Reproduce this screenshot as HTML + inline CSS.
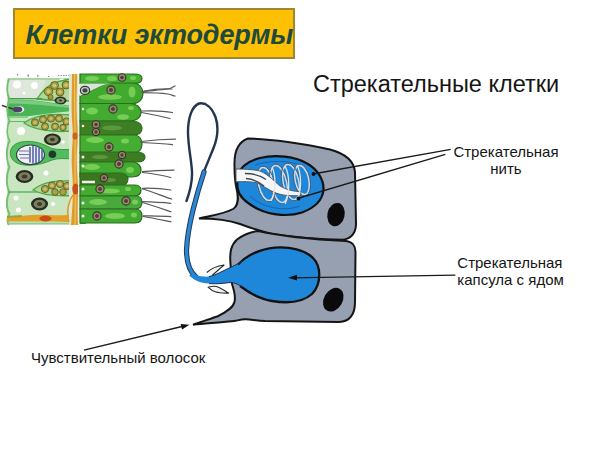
<!DOCTYPE html>
<html><head><meta charset="utf-8">
<style>
html,body{margin:0;padding:0;background:#fff;}
body{width:600px;height:450px;position:relative;overflow:hidden;font-family:"Liberation Sans",sans-serif;}
.t{position:absolute;white-space:nowrap;color:#151515;line-height:1;}
#box{position:absolute;left:13px;top:8px;width:278px;height:47px;background:#FEC002;border:2px solid #a08634;}
#title{position:absolute;left:25.5px;top:22px;font-weight:bold;font-style:italic;font-size:27px;color:#1d4a3c;white-space:nowrap;line-height:1;letter-spacing:-0.1px;}
svg{position:absolute;left:0;top:0;}
</style></head>
<body>
<div id="box"></div>
<div id="title">Клетки эктодермы</div>
<div class="t" style="left:313px;top:73px;font-size:23.5px;">Стрекательные клетки</div>
<div class="t" style="left:453px;top:143px;font-size:15px;width:106px;text-align:center;line-height:17.3px;">Стрекательная<br>нить</div>
<div class="t" style="left:457.3px;top:253.9px;font-size:15px;line-height:17.6px;">Стрекательная<br>капсула с ядом</div>
<div class="t" style="left:31px;top:350px;font-size:15px;">Чувствительный волосок</div>
<svg width="600" height="450" viewBox="0 0 600 450">
<!-- ===== epithelium picture ===== -->
<g id="epi">
<!-- left light background -->
<rect x="7" y="78" width="66" height="147" fill="#c9e6c0"/>
<path d="M8,79 L46,79 C44,88 40,95 36,98.5 L8,98.5 Z" fill="#dde7da"/>
<path d="M8,79 L72,79" stroke="#9ccf94" stroke-width="1.5"/>
<g fill="#8a8a80"><rect x="17" y="74" width="1.2" height="1.5"/><rect x="27.5" y="74.5" width="1.5" height="2"/><rect x="37" y="75" width="1.5" height="1.5"/><rect x="48" y="76" width="1.2" height="1"/><path d="M58,75.5 L70,75.5" stroke="#9a9a88" stroke-width="1" stroke-dasharray="1.5 1"/></g>
<!-- top white holes -->
<circle cx="17" cy="84.5" r="4" fill="#fff"/>
<circle cx="34.5" cy="85.5" r="3.4" fill="#fff"/>
<circle cx="24" cy="93" r="1.5" fill="#fff"/>
<circle cx="62" cy="81.5" r="3" fill="#fff"/>
<!-- top granule cell -->
<path d="M37,99 C43,90 50,81 72,79 L72,101 C60,101 48,100 37,99 Z" fill="#b3d89e" stroke="#4fa848" stroke-width="1.3"/>
<g fill="#a8a040" stroke="#5e5e1c" stroke-width="0.9">
<circle cx="48.5" cy="91.5" r="4.3"/><circle cx="54.5" cy="85.5" r="4"/><circle cx="60" cy="92" r="4"/><circle cx="66" cy="85" r="4"/><circle cx="50.5" cy="97" r="2.5"/>
</g>
<g fill="#cfc878"><circle cx="48.5" cy="91.5" r="2"/><circle cx="54.5" cy="85.5" r="1.8"/><circle cx="60" cy="92" r="1.8"/><circle cx="66" cy="85" r="1.8"/></g>
<ellipse cx="60.5" cy="100.5" rx="6" ry="4" fill="#2a3424"/>
<ellipse cx="60.5" cy="100.5" rx="4" ry="2.5" fill="#8c9870"/>
<ellipse cx="60.5" cy="100.5" rx="1.6" ry="1.1" fill="#3a3a22"/>
<!-- green elongated sensory cell -->
<path d="M8,99.5 L30,100 C45,101.5 60,104 72,106 L72,111 C60,112 45,114 30,116 L8,116 Z" fill="#4ab456"/>
<path d="M8,100 L30,100.5 C45,102 60,104.5 72,106.5 L72,108 C55,106.5 40,104 8,103.5 Z" fill="#7ccc80"/>
<path d="M8,98.7 L42,98.7" stroke="#3e9c48" stroke-width="1.2"/>
<path d="M8,117 L28,117" stroke="#5cbf5e" stroke-width="1.2"/>
<ellipse cx="18.5" cy="109.5" rx="5.8" ry="3.6" fill="#f0f0f0"/>
<ellipse cx="17.5" cy="109.5" rx="4.8" ry="3" fill="#4c4466"/>
<path d="M2,105.5 C6,106.5 9,108 13,109" stroke="#3a3a3a" stroke-width="1.6" fill="none"/>
<!-- middle granule cell -->
<path d="M24,123 C35,114.5 55,113.5 72,115 L72,131 C55,132.5 35,130.5 24,123 Z" fill="#a6d294" stroke="#4fa848" stroke-width="1.3"/>
<g fill="#a8a040" stroke="#5e5e1c" stroke-width="0.9">
<circle cx="35" cy="122.5" r="3.6"/><circle cx="43" cy="119.5" r="3.6"/><circle cx="51" cy="118.5" r="3.6"/><circle cx="59" cy="118.5" r="3.6"/><circle cx="66.5" cy="121.5" r="3.6"/><circle cx="45" cy="126.5" r="3.5"/><circle cx="55" cy="126.5" r="3.5"/><circle cx="63" cy="127.5" r="3.2"/>
</g>
<g fill="#c8c070"><circle cx="35" cy="122.5" r="1.6"/><circle cx="43" cy="119.5" r="1.6"/><circle cx="51" cy="118.5" r="1.6"/><circle cx="59" cy="118.5" r="1.6"/><circle cx="66.5" cy="121.5" r="1.6"/><circle cx="45" cy="126.5" r="1.5"/><circle cx="55" cy="126.5" r="1.5"/><circle cx="63" cy="127.5" r="1.4"/></g>
<path d="M8,121.5 L26,121.5" stroke="#5cbf5e" stroke-width="1"/>
<circle cx="21" cy="131" r="4" fill="#fff"/>
<!-- nucleus ring -->
<ellipse cx="52.4" cy="139.5" rx="8.5" ry="6.1" fill="#262c20"/>
<ellipse cx="52.4" cy="139.5" rx="6" ry="4" fill="#7a8060"/>
<ellipse cx="52.4" cy="139.5" rx="2.6" ry="1.8" fill="#3e3e24"/>
<circle cx="63" cy="142" r="1.8" fill="#fff"/>
<!-- nematocyst cell -->
<path d="M10.3,153 C10.3,145 18,141.4 28,141.4 C38,141.4 45,145 52,148.5 C58,150 65,149.5 72.6,149.3 L72.6,159 C65,158.5 58,158 52,160 C45,163 38,165.2 28,165.2 C18,165.2 10.3,161 10.3,153 Z" fill="#52bc5e" stroke="#3a9a44" stroke-width="1"/>
<ellipse cx="30.5" cy="154.8" rx="14" ry="9.8" fill="#eef0f6" stroke="#2e4a40" stroke-width="1.2"/>
<g stroke="#4a5aa8" stroke-width="1.5">
<path d="M30,147 L30,162.5 M33,146 L33,163.5 M36,146.5 L36,163 M39,147.5 L39,162 M42,150 L42,159.5"/>
</g>
<path d="M19,151 L29,151 M19,154.5 L29,154.5 M20,158 L29,158" stroke="#7a72a0" stroke-width="1"/>
<circle cx="52.4" cy="154.2" r="3.8" fill="#1e3a2a"/>
<!-- left edge cells outline -->
<path d="M9,79 C6.5,85 6.5,94 9.5,99 C6.5,105 6.5,115 9.5,121 C6.5,127 6.5,135 9.5,141 C6,148 6,160 9.5,167 C6,174 6,186 9.5,192 C6,198 6,208 9.5,214 C7,218 7,222 9,225" stroke="#70c06c" stroke-width="1.8" fill="none"/>
<!-- lower left area -->
<ellipse cx="24.5" cy="176.5" rx="8.8" ry="6.5" fill="#262c20"/>
<ellipse cx="24.5" cy="176.5" rx="6.2" ry="4.3" fill="#7c8062"/>
<ellipse cx="24.5" cy="176.5" rx="2.8" ry="2" fill="#3e3e24"/>
<circle cx="46" cy="173" r="2.5" fill="#fff"/>
<path d="M33,190 C42,182 55,180 72,181 L72,195.5 C55,196.5 42,195 33,190 Z" fill="#b0d69a" stroke="#4fa848" stroke-width="1.3"/>
<g fill="#a8a24a" stroke="#5e5e1c" stroke-width="0.9">
<circle cx="45" cy="189" r="3.6"/><circle cx="52" cy="185.5" r="3.6"/><circle cx="60" cy="184" r="3.6"/><circle cx="67" cy="186" r="3.6"/><circle cx="55" cy="192" r="3.3"/><circle cx="63" cy="192" r="3.3"/>
</g>
<g fill="#cdc47a"><circle cx="45" cy="189" r="1.6"/><circle cx="52" cy="185.5" r="1.6"/><circle cx="60" cy="184" r="1.6"/><circle cx="67" cy="186" r="1.6"/></g>
<path d="M8,192 L37,192" stroke="#4fae58" stroke-width="1.3"/>
<ellipse cx="39.5" cy="204" rx="8.5" ry="6.5" fill="#262c20"/>
<ellipse cx="39.5" cy="204" rx="6" ry="4.3" fill="#7c8062"/>
<ellipse cx="39.5" cy="204" rx="2.6" ry="1.9" fill="#3e3e24"/>
<circle cx="16" cy="198" r="2.5" fill="#fff"/><circle cx="18.5" cy="210" r="2.5" fill="#fff"/><circle cx="53" cy="204" r="2" fill="#fff"/>
<!-- bottom orange bar -->
<path d="M7,218.5 C20,215.5 35,214 47,215 C55,215 65,216 73,214 L73,222.5 C60,221.5 40,221.5 7,221.5 Z" fill="#e2a028"/>
<path d="M7,217 L22,216" stroke="#90a438" stroke-width="2"/>
<ellipse cx="45.5" cy="218.5" rx="6" ry="3" fill="#cc4a14"/>
<path d="M8,223.5 L72,223.5" stroke="#8cd08c" stroke-width="1.5"/>
<!-- orange vertical band -->
<rect x="69" y="74" width="12" height="151" fill="#dfe9d2"/>
<path d="M72,74 L77,74 C77,90 76,105 77,120 C78,130 78,140 77,150 C76,165 78,178 78,189 C78,200 77,212 78,225 L71,225 C72,212 73,200 73,189 C73,178 71,165 72,150 C73,140 73,130 72,120 C71,105 72,90 72,74 Z" fill="#e09a28"/>
<path d="M74.5,74 C74.5,95 74.5,110 75,125 C75.5,150 74.5,170 75.5,190 C75.5,205 75,215 75,225" stroke="#f0c060" stroke-width="1.2" fill="none"/>
<ellipse cx="75.5" cy="189" rx="3.2" ry="5.5" fill="#c8501a"/>
<ellipse cx="75" cy="136" rx="2.5" ry="3.5" fill="#d06020"/>
<path d="M69,222 C66,210 69,200 73,195 M78,195 C80,205 80,215 81,222" stroke="#e09a28" stroke-width="1.5" fill="none"/>
<rect x="78" y="74" width="2.5" height="151" fill="#eef0e4"/>
<!-- right green cells -->
<rect x="80" y="74" width="6" height="150" fill="#3f9a30"/>
<g stroke="#2c6e1e" stroke-width="1.2">
<path d="M80,74 L134,74 C139,74 142,76 142,78.5 C142,81.5 139,83.5 134,83.5 L80,83.5 Z" fill="#46b032"/>
<path d="M80,103.5 L80,96 C95,90 100,83 112,83 L133,83 C139,83 143,88 143,93.5 C143,99 139,103.5 133,103.5 Z" fill="#40a92e"/>
<path d="M80,83.5 L112,83.5 C100,84 95,90 80,96 Z" fill="#d8e4d8" stroke="none"/>
<path d="M80,103.5 L130,103.5 C137,103.5 141,108 141,112 C141,117 137,121 130,121 L80,121 Z" fill="#42ab30"/>
<path d="M80,121 L133,121 C139,121 142,125 142,128 C142,132 139,135 133,135 L80,135 Z" fill="#3d7f22"/>
<path d="M80,135 L134,135 C139,135 142,139 142,144 C142,149 139,153 134,153 L80,153 Z" fill="#44ae32"/>
<path d="M80,152 L137,152 C142,152 145,154.5 145,157 C145,160 142,162 137,162 L80,162 Z" fill="#3e7c23"/>
<path d="M80,162 L132,162 C138,162 141,166 141,170 C141,174 138,177 132,177 L80,177 Z" fill="#42ab30"/>
<path d="M80,173 L120,173 C125,173 128,176 128,179 C128,183 125,186 120,186 L80,186 Z" fill="#3b7621"/>
<path d="M80,185 L134,185 C139,185 141,187 141,190 C141,194 139,196 134,196 L80,196 Z" fill="#44ac31"/>
<path d="M80,196 L135,196 C140,196 142,199 142,202 C142,206 140,209 135,209 L80,209 Z" fill="#47aa3a"/>
<path d="M80,209 L135,209 C140,209 142,212 142,216 C142,220 140,223 135,223 L80,223 Z" fill="#42aa30"/>
</g>
<!-- light spots -->
<g fill="#88da64" opacity="0.75">
<ellipse cx="92" cy="78.5" rx="7" ry="2.6"/><ellipse cx="112" cy="78.5" rx="5" ry="2.5"/><ellipse cx="133" cy="78" rx="3" ry="2"/>
<ellipse cx="132" cy="92" rx="3.5" ry="5.5"/><ellipse cx="110" cy="97" rx="12" ry="2.8"/>
<ellipse cx="92" cy="111" rx="6" ry="3.5"/><ellipse cx="123" cy="117" rx="6" ry="2.8"/><ellipse cx="131" cy="108" rx="3" ry="2"/>
<ellipse cx="95" cy="140" rx="9" ry="3"/><ellipse cx="125" cy="141" rx="4" ry="2.5"/>
<ellipse cx="92" cy="167" rx="8" ry="3"/><ellipse cx="130" cy="170" rx="4" ry="3"/>
<ellipse cx="110" cy="191" rx="10" ry="2.5"/><ellipse cx="128" cy="189" rx="3" ry="2"/>
<ellipse cx="98" cy="202" rx="9" ry="3"/><ellipse cx="135" cy="202" rx="3" ry="2.5"/>
<ellipse cx="115" cy="216" rx="10" ry="3"/><ellipse cx="134" cy="215" rx="3" ry="2.5"/>
</g>
<g fill="#7fb060" opacity="0.5">
<ellipse cx="112" cy="128" rx="10" ry="2.5"/><ellipse cx="100" cy="157" rx="8" ry="2"/><ellipse cx="110" cy="180" rx="6" ry="2"/>
</g>
<!-- nuclei -->
<g fill="#948c76" stroke="#3a3626" stroke-width="1.15">
<circle cx="122" cy="77.5" r="3.8"/><circle cx="111" cy="90" r="4.1"/><circle cx="113" cy="109" r="4.1"/>
<circle cx="96" cy="124.5" r="3.8"/><circle cx="96" cy="132" r="3.6"/><circle cx="109" cy="147" r="4.1"/>
<circle cx="122" cy="155" r="3.6"/><circle cx="119" cy="164" r="4.1"/><circle cx="104" cy="178" r="3.6"/>
<circle cx="100" cy="189" r="4.1"/><circle cx="126" cy="201" r="4.1"/><circle cx="97" cy="216" r="4.1"/>
</g>
<g fill="#5a3a30">
<circle cx="122" cy="77.5" r="1.8"/><circle cx="111" cy="90" r="2"/><circle cx="113" cy="109" r="2"/>
<circle cx="96" cy="124.5" r="1.8"/><circle cx="96" cy="132" r="1.7"/><circle cx="109" cy="147" r="2"/>
<circle cx="122" cy="155" r="1.7"/><circle cx="119" cy="164" r="2"/><circle cx="104" cy="178" r="1.7"/>
<circle cx="100" cy="189" r="2"/><circle cx="126" cy="201" r="2"/><circle cx="97" cy="216" r="2"/>
</g>
<ellipse cx="85" cy="90.4" rx="4.6" ry="4" fill="#c8ccc4" stroke="#2e3a30" stroke-width="1.2"/>
<ellipse cx="85" cy="90.4" rx="2.6" ry="2.2" fill="#3a4440"/>
<g fill="#f4f4ee">
<circle cx="83" cy="157" r="1.5"/><circle cx="83" cy="166" r="1.5"/><circle cx="83" cy="189" r="1.5"/><circle cx="83" cy="203" r="1.5"/><circle cx="83" cy="216" r="1.5"/><circle cx="83" cy="109" r="1.3"/><circle cx="83" cy="126" r="1.3"/>
</g>
<path d="M82,182 L95,182" stroke="#eef0ea" stroke-width="2.5"/>
<!-- hairs -->
<g stroke="#585858" stroke-width="1.25" fill="none" stroke-linecap="round">
<path d="M142,91.5 C152,90.5 162,90 168,89 C171,88.5 173,87 175,86"/><path d="M142,92.5 C152,92.5 162,93 168,94 C171,94.5 173,95.5 175,96"/><path d="M144,91 C155,89 165,88.5 172,89"/>
<path d="M141.5,111 C152,110.5 162,110.5 172.5,112.5"/><path d="M141.5,112.5 C150,114 160,116 170,118.5"/>
<path d="M141,141.5 C152,140 163,139 175.5,139"/><path d="M141,142.5 C152,143 162,143.5 172.5,144.6"/>
<path d="M142.5,171.7 C152,170.5 163,170 174,170"/><path d="M142.5,172.5 C152,173.5 162,175 170.8,177.5"/>
<path d="M142.5,188.3 C152,188 162,188.5 170.8,190"/><path d="M142.5,189 C150,191 160,195 171.7,199"/>
<path d="M142.5,201.7 C152,202 162,202.5 170.8,203.3"/><path d="M142.5,202.5 C150,204.5 160,208 170.8,211.7"/>
<path d="M143.3,215.8 C152,216 162,216 170.8,216.7"/><path d="M143.3,216.5 C152,218 162,220 170.8,221.7"/>
</g>
</g>
<!-- ===== diagram ===== -->
<g id="diag">
<!-- thread -->
<path d="M186.5,201 C189,194 192.5,184 192,172 C191.5,160 188,146 188,132 C188,118 192,106 199,103.5 C206,102 212,108 215.5,117 C218.5,126 217.5,138 213.5,148 C210,157 206,166 203,174 C200,182 197,194 193,210 C190,222 187,240 186.5,250 C186.5,262 189,271 196,277" fill="none" stroke="#223650" stroke-width="2.4" stroke-linecap="round"/>
<path d="M204,172 C201,181 197,194 193,210 C190,222 187,240 186.5,250 C186.5,262 189,271 196,277" fill="none" stroke="#233a58" stroke-width="5.2" stroke-linecap="round"/>
<path d="M204,172 C201,181 197,194 193,210 C190,222 187,240 186.5,250 C186.5,262 189,271 196,277" fill="none" stroke="#2a88d4" stroke-width="3.2" stroke-linecap="round"/>
<!-- top cell -->
<path d="M234.5,166 C234,153 238,142 248,138.5 C270,139 305,143.5 330,149.5 C345,153.5 354,161 355,172 L356,224 C356,233 351,239 343,239.7 C325,239.5 295,237.5 272,234 C258,230.5 248,227 240,224 C230,220.5 215,218.5 199,218.5 C212,215.5 224,214 233,209 C239.5,205 238.5,196 236,186 C234.5,178 234.5,172 234.5,166 Z" fill="#97a0b1" stroke="#151515" stroke-width="2"/>
<!-- bottom cell -->
<path d="M258,231 C280,236 315,239.5 346,241 C352,241.5 355.5,246 355.5,252 L355,302 C355,314 350,321.5 339,322 L265,321 C255,320.5 250,319 245,319.3 C240,319.5 236,321 231.7,321.3 C220,322.5 205,323.5 193,324.7 C203,321 212,318.5 218.3,316 C226,312 233,308 234.5,302 C236,296 234,290 232,284 L230.5,264 C229.5,252 231,245 237,239.5 C244,234.5 251,232 258,231 Z" fill="#97a0b1" stroke="#151515" stroke-width="2"/>
<!-- top capsule -->
<path d="M237,176 C240,168 248,161 260,158 C275,154.5 295,156 308,164 C318,170 324,180 323.5,190 C322.5,200 314,208 302,212.5 C290,216.5 272,216 258,209 C246,203 238.5,195 237.5,188 Z" fill="#1f87d9" stroke="#111" stroke-width="2.2"/>
<path d="M250,196 C262,208 285,212 300,206 M255,165 C270,160 290,160 302,166" fill="none" stroke="#1465b0" stroke-width="1"/>
<!-- coils back -->
<g fill="none" stroke="#d0dae4" stroke-width="1.8">
<ellipse cx="266" cy="184" rx="7.5" ry="17" transform="rotate(-12 266 184)"/>
<ellipse cx="279" cy="184" rx="8" ry="19" transform="rotate(-12 279 184)"/>
<ellipse cx="291" cy="182" rx="8" ry="18" transform="rotate(-12 291 182)"/>
<ellipse cx="302" cy="180" rx="7" ry="15" transform="rotate(-12 302 180)"/>
</g>
<g fill="none" stroke="#4a5460" stroke-width="0.8">
<ellipse cx="266" cy="184" rx="8.6" ry="18.2" transform="rotate(-12 266 184)"/>
<ellipse cx="279" cy="184" rx="9.1" ry="20.2" transform="rotate(-12 279 184)"/>
<ellipse cx="291" cy="182" rx="9.1" ry="19.2" transform="rotate(-12 291 182)"/>
<ellipse cx="302" cy="180" rx="8.1" ry="16.2" transform="rotate(-12 302 180)"/>
</g>
<!-- tube -->
<path d="M236,169 C244,169 252,169.5 258,170.5 C266,172.5 272,179 280,186 C287,190 294,191.5 301,191.7 L300.5,195.5 C292,196 284,196 276,193 C268,190 262,184.5 256,182.5 C250,181.5 243,181.5 236,181.8 Z" fill="#f4f6f8" stroke="#4a5058" stroke-width="0.9"/>
<path d="M245,173.5 C253,173.5 260,175 266,179.5 M246,178.5 C254,179 259,182 264,186" fill="none" stroke="#404858" stroke-width="1.3"/>
<!-- coils front strokes -->
<g fill="none" stroke="#dde4ec" stroke-width="1.3">
<path d="M272,167 C276,175 276,192 271,201"/>
<path d="M285,166 C290,175 290,194 285,204"/>
<path d="M297,165 C301,172 302,188 298,198"/>
</g>
<!-- nuclei -->
<ellipse cx="336" cy="214.6" rx="8.6" ry="11.8" transform="rotate(12 336 214.6)" fill="#0a0a0a"/>
<ellipse cx="333.3" cy="299.7" rx="9.3" ry="12.6" transform="rotate(30 333.3 299.7)" fill="#0a0a0a"/>
<!-- bottom capsule -->
<path d="M195.2,274.8 C200,276.5 205,276.8 209,276.6 C214,275.5 218,273.5 222,271.5 C228,268.5 236,265 242.7,261 C250,254 262,249 275,247.6 C290,246.5 305,250 313,258 C321,266 322,283 312,294 C303,302 290,304 272,301 C258,299 248,292 242,287 C238,284.5 234,282.5 231,282.4 C225,283 218,284.3 209,283.6 C200,283 193,280 189,275 Z" fill="#1f87d9"/>
<path d="M238,264.5 C248,254 262,249 275,247.6 C290,246.5 305,250 313,258 C321,266 322,283 312,294 C303,302 290,304 272,301 C258,299 248,292 240,286" fill="none" stroke="#111" stroke-width="2.3"/>
<path d="M209,276.6 C214,275.5 218,273.5 222,271.5 C228,268.5 236,265 242.7,261" fill="none" stroke="#1a3050" stroke-width="1"/>
<path d="M209,283.6 C218,284.3 225,283 231,282.4 C236,283 239,285 242,287" fill="none" stroke="#1a3050" stroke-width="1"/>
<!-- fins -->
<path d="M206.8,272.5 C211,268.5 217,266 224.3,265 C220,268 217,271.5 212,275.5" fill="#f4f4f4" stroke="#2a2a2a" stroke-width="1.1"/>
<path d="M208.3,287.3 C212,286 216,286 219,287.5 C222,289 226,291.5 229,293.3 C224,293 220,293 216,292 C212,291 210,289 208.3,287.3 Z" fill="#f4f4f4" stroke="#2a2a2a" stroke-width="1.1"/>
<!-- pointer lines -->
<g stroke="#1a1a1a" stroke-width="1.35" fill="none">
<line x1="313" y1="174" x2="450.7" y2="149.3"/>
<line x1="297.5" y1="198.5" x2="445.3" y2="154.3"/>
<line x1="292" y1="277.8" x2="455.4" y2="275.2"/>
<line x1="84" y1="350.2" x2="184" y2="326"/>
</g>
<g fill="#111">
<circle cx="313.5" cy="174" r="1.9"/>
<circle cx="298.5" cy="198.5" r="1.9"/>
<path d="M288,277.7 L297,274.8 L297,280.4 Z"/>
<path d="M189.4,324.8 L180.6,323.9 L182.1,329.4 Z"/>
</g>
</g>
</svg></body></html>
